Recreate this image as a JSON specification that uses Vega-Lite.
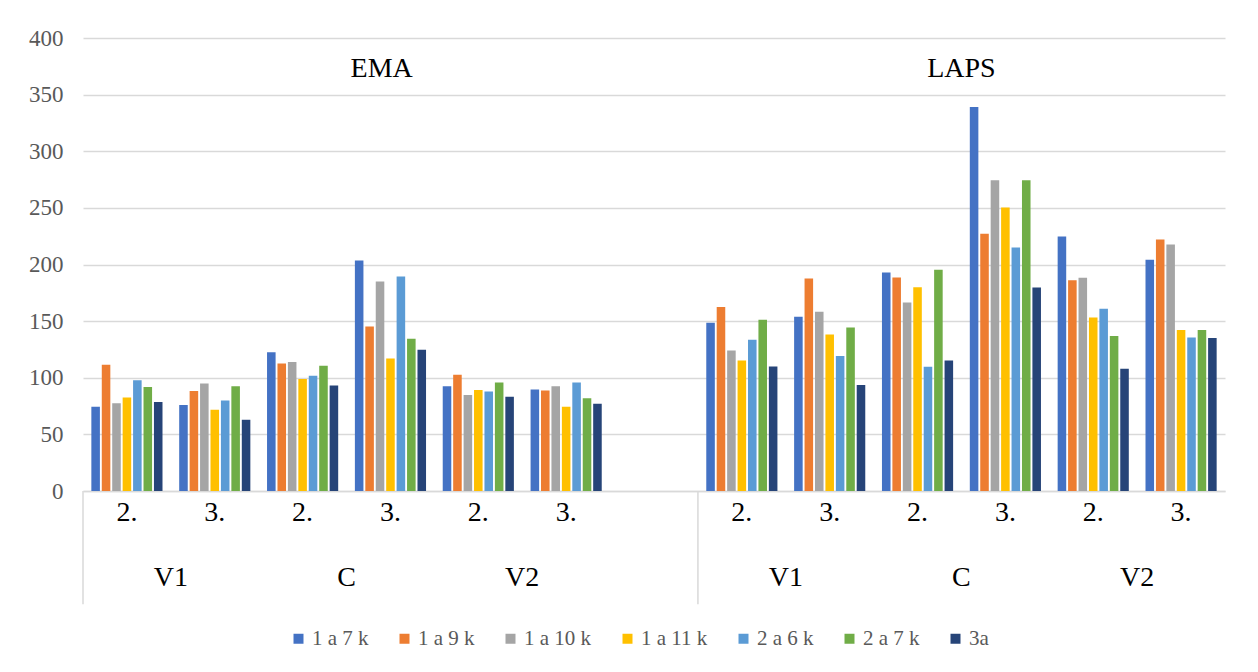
{
  "$schema": "https://vega.github.io/schema/vega-lite/v6.json",
  "width": 1142,
  "height": 453,
  "autosize": "none",
  "padding": {"left": 83, "top": 38, "right": 33, "bottom": 181},
  "background": "white",
  "config": {"view": {"stroke": null}, "font": "Liberation Serif"},
  "datasets": {
    "bars": [
      {"slot": "EMA|V1|2.", "series": "1 a 7 k", "value": 74.4},
      {"slot": "EMA|V1|2.", "series": "1 a 9 k", "value": 111.5},
      {"slot": "EMA|V1|2.", "series": "1 a 10 k", "value": 77.4},
      {"slot": "EMA|V1|2.", "series": "1 a 11 k", "value": 82.6},
      {"slot": "EMA|V1|2.", "series": "2 a 6 k", "value": 97.9},
      {"slot": "EMA|V1|2.", "series": "2 a 7 k", "value": 91.8},
      {"slot": "EMA|V1|2.", "series": "3a", "value": 78.5},
      {"slot": "EMA|V1|3.", "series": "1 a 7 k", "value": 75.9},
      {"slot": "EMA|V1|3.", "series": "1 a 9 k", "value": 88.2},
      {"slot": "EMA|V1|3.", "series": "1 a 10 k", "value": 95.0},
      {"slot": "EMA|V1|3.", "series": "1 a 11 k", "value": 71.8},
      {"slot": "EMA|V1|3.", "series": "2 a 6 k", "value": 80.0},
      {"slot": "EMA|V1|3.", "series": "2 a 7 k", "value": 92.4},
      {"slot": "EMA|V1|3.", "series": "3a", "value": 62.9},
      {"slot": "EMA|C|2.", "series": "1 a 7 k", "value": 122.6},
      {"slot": "EMA|C|2.", "series": "1 a 9 k", "value": 112.6},
      {"slot": "EMA|C|2.", "series": "1 a 10 k", "value": 113.8},
      {"slot": "EMA|C|2.", "series": "1 a 11 k", "value": 98.8},
      {"slot": "EMA|C|2.", "series": "2 a 6 k", "value": 101.8},
      {"slot": "EMA|C|2.", "series": "2 a 7 k", "value": 110.6},
      {"slot": "EMA|C|2.", "series": "3a", "value": 93.2},
      {"slot": "EMA|C|3.", "series": "1 a 7 k", "value": 203.5},
      {"slot": "EMA|C|3.", "series": "1 a 9 k", "value": 145.3},
      {"slot": "EMA|C|3.", "series": "1 a 10 k", "value": 185.0},
      {"slot": "EMA|C|3.", "series": "1 a 11 k", "value": 117.1},
      {"slot": "EMA|C|3.", "series": "2 a 6 k", "value": 189.4},
      {"slot": "EMA|C|3.", "series": "2 a 7 k", "value": 134.4},
      {"slot": "EMA|C|3.", "series": "3a", "value": 124.7},
      {"slot": "EMA|V2|2.", "series": "1 a 7 k", "value": 92.4},
      {"slot": "EMA|V2|2.", "series": "1 a 9 k", "value": 102.6},
      {"slot": "EMA|V2|2.", "series": "1 a 10 k", "value": 84.7},
      {"slot": "EMA|V2|2.", "series": "1 a 11 k", "value": 89.1},
      {"slot": "EMA|V2|2.", "series": "2 a 6 k", "value": 87.9},
      {"slot": "EMA|V2|2.", "series": "2 a 7 k", "value": 95.9},
      {"slot": "EMA|V2|2.", "series": "3a", "value": 83.2},
      {"slot": "EMA|V2|3.", "series": "1 a 7 k", "value": 89.7},
      {"slot": "EMA|V2|3.", "series": "1 a 9 k", "value": 88.8},
      {"slot": "EMA|V2|3.", "series": "1 a 10 k", "value": 92.6},
      {"slot": "EMA|V2|3.", "series": "1 a 11 k", "value": 74.4},
      {"slot": "EMA|V2|3.", "series": "2 a 6 k", "value": 95.9},
      {"slot": "EMA|V2|3.", "series": "2 a 7 k", "value": 81.8},
      {"slot": "EMA|V2|3.", "series": "3a", "value": 77.1},
      {"slot": "LAPS|V1|2.", "series": "1 a 7 k", "value": 148.6},
      {"slot": "LAPS|V1|2.", "series": "1 a 9 k", "value": 162.4},
      {"slot": "LAPS|V1|2.", "series": "1 a 10 k", "value": 124.1},
      {"slot": "LAPS|V1|2.", "series": "1 a 11 k", "value": 115.3},
      {"slot": "LAPS|V1|2.", "series": "2 a 6 k", "value": 133.6},
      {"slot": "LAPS|V1|2.", "series": "2 a 7 k", "value": 151.2},
      {"slot": "LAPS|V1|2.", "series": "3a", "value": 110.0},
      {"slot": "LAPS|V1|3.", "series": "1 a 7 k", "value": 153.9},
      {"slot": "LAPS|V1|3.", "series": "1 a 9 k", "value": 187.7},
      {"slot": "LAPS|V1|3.", "series": "1 a 10 k", "value": 158.3},
      {"slot": "LAPS|V1|3.", "series": "1 a 11 k", "value": 138.3},
      {"slot": "LAPS|V1|3.", "series": "2 a 6 k", "value": 119.1},
      {"slot": "LAPS|V1|3.", "series": "2 a 7 k", "value": 144.4},
      {"slot": "LAPS|V1|3.", "series": "3a", "value": 93.5},
      {"slot": "LAPS|C|2.", "series": "1 a 7 k", "value": 192.9},
      {"slot": "LAPS|C|2.", "series": "1 a 9 k", "value": 188.5},
      {"slot": "LAPS|C|2.", "series": "1 a 10 k", "value": 166.5},
      {"slot": "LAPS|C|2.", "series": "1 a 11 k", "value": 180.0},
      {"slot": "LAPS|C|2.", "series": "2 a 6 k", "value": 109.8},
      {"slot": "LAPS|C|2.", "series": "2 a 7 k", "value": 195.3},
      {"slot": "LAPS|C|2.", "series": "3a", "value": 115.3},
      {"slot": "LAPS|C|3.", "series": "1 a 7 k", "value": 339.1},
      {"slot": "LAPS|C|3.", "series": "1 a 9 k", "value": 227.1},
      {"slot": "LAPS|C|3.", "series": "1 a 10 k", "value": 274.4},
      {"slot": "LAPS|C|3.", "series": "1 a 11 k", "value": 250.3},
      {"slot": "LAPS|C|3.", "series": "2 a 6 k", "value": 215.0},
      {"slot": "LAPS|C|3.", "series": "2 a 7 k", "value": 274.4},
      {"slot": "LAPS|C|3.", "series": "3a", "value": 179.7},
      {"slot": "LAPS|V2|2.", "series": "1 a 7 k", "value": 224.7},
      {"slot": "LAPS|V2|2.", "series": "1 a 9 k", "value": 186.2},
      {"slot": "LAPS|V2|2.", "series": "1 a 10 k", "value": 188.2},
      {"slot": "LAPS|V2|2.", "series": "1 a 11 k", "value": 153.2},
      {"slot": "LAPS|V2|2.", "series": "2 a 6 k", "value": 160.9},
      {"slot": "LAPS|V2|2.", "series": "2 a 7 k", "value": 136.8},
      {"slot": "LAPS|V2|2.", "series": "3a", "value": 108.0},
      {"slot": "LAPS|V2|3.", "series": "1 a 7 k", "value": 204.1},
      {"slot": "LAPS|V2|3.", "series": "1 a 9 k", "value": 222.1},
      {"slot": "LAPS|V2|3.", "series": "1 a 10 k", "value": 217.6},
      {"slot": "LAPS|V2|3.", "series": "1 a 11 k", "value": 142.1},
      {"slot": "LAPS|V2|3.", "series": "2 a 6 k", "value": 135.6},
      {"slot": "LAPS|V2|3.", "series": "2 a 7 k", "value": 142.1},
      {"slot": "LAPS|V2|3.", "series": "3a", "value": 135.0}
    ],
    "groups": [
      {"slot": "EMA|V1|2.", "label": "V1"},
      {"slot": "EMA|C|2.", "label": "C"},
      {"slot": "EMA|V2|2.", "label": "V2"},
      {"slot": "LAPS|V1|2.", "label": "V1"},
      {"slot": "LAPS|C|2.", "label": "C"},
      {"slot": "LAPS|V2|2.", "label": "V2"}
    ],
    "seps": [
      {"slot": "EMA|V1|2."},
      {"slot": "LAPS|V1|2."}
    ]
  },
  "layer": [
    {
      "data": {"name": "bars"},
      "mark": {"type": "bar"},
      "encoding": {
        "x": {
          "field": "slot",
          "type": "nominal",
          "sort": null,
          "scale": {
            "domain": ["EMA|V1|2.", "EMA|V1|3.", "EMA|C|2.", "EMA|C|3.", "EMA|V2|2.", "EMA|V2|3.", "EMA| | ", "LAPS|V1|2.", "LAPS|V1|3.", "LAPS|C|2.", "LAPS|C|3.", "LAPS|V2|2.", "LAPS|V2|3."],
            "paddingInner": 0,
            "paddingOuter": 0
          },
          "axis": {
            "title": null,
            "labelExpr": "split(datum.value, '|')[2]",
            "labelAngle": 0,
            "ticks": false,
            "grid": false,
            "domainColor": "#d9d9d9",
            "domainWidth": 1.5,
            "labelFont": "Liberation Serif",
            "labelFontSize": 28,
            "labelColor": "#000000",
            "labelPadding": 7
          }
        },
        "xOffset": {
          "field": "series",
          "type": "nominal",
          "sort": ["1 a 7 k", "1 a 9 k", "1 a 10 k", "1 a 11 k", "2 a 6 k", "2 a 7 k", "3a"],
          "scale": {"paddingInner": 0.18, "paddingOuter": 0.8}
        },
        "y": {
          "field": "value",
          "type": "quantitative",
          "scale": {"domain": [0, 400], "nice": false},
          "axis": {
            "title": null,
            "values": [0, 50, 100, 150, 200, 250, 300, 350, 400],
            "domain": false,
            "ticks": false,
            "labelFont": "Liberation Serif",
            "labelFontSize": 23,
            "labelColor": "#595959",
            "labelPadding": 20,
            "gridColor": "#d9d9d9",
            "gridWidth": 1.3
          }
        },
        "color": {
          "field": "series",
          "type": "nominal",
          "sort": ["1 a 7 k", "1 a 9 k", "1 a 10 k", "1 a 11 k", "2 a 6 k", "2 a 7 k", "3a"],
          "scale": {
            "domain": ["1 a 7 k", "1 a 9 k", "1 a 10 k", "1 a 11 k", "2 a 6 k", "2 a 7 k", "3a"],
            "range": ["#4472C4", "#ED7D31", "#A5A5A5", "#FFC000", "#5B9BD5", "#70AD47", "#264478"]
          },
          "legend": {
            "orient": "none",
            "legendX": 205,
            "legendY": 590,
            "direction": "horizontal",
            "columns": 7,
            "title": null,
            "symbolType": "square",
            "symbolSize": 100,
            "symbolStrokeWidth": 0,
            "labelFont": "Liberation Serif",
            "labelFontSize": 21,
            "labelColor": "#595959",
            "labelOffset": 3,
            "columnPadding": 25
          }
        }
      }
    },
    {
      "data": {"name": "seps"},
      "mark": {"type": "rule", "color": "#d9d9d9", "strokeWidth": 1.5},
      "encoding": {
        "x": {"field": "slot", "type": "nominal", "bandPosition": 0},
        "y": {"datum": 0},
        "y2": {"datum": -100}
      }
    },
    {
      "data": {"name": "groups"},
      "mark": {"type": "text", "fontSize": 28, "color": "#000000", "baseline": "middle", "align": "center", "font": "Liberation Serif"},
      "encoding": {
        "x": {"field": "slot", "type": "nominal", "bandPosition": 1},
        "y": {"datum": -77},
        "text": {"field": "label"}
      }
    },
    {
      "data": {"values": [{"slot": "EMA|C|3.", "label": "EMA"}]},
      "mark": {"type": "text", "fontSize": 28, "color": "#000000", "baseline": "middle", "align": "center", "font": "Liberation Serif"},
      "encoding": {
        "x": {"field": "slot", "type": "nominal", "bandPosition": 0.4},
        "y": {"datum": 373},
        "text": {"field": "label"}
      }
    },
    {
      "data": {"values": [{"slot": "LAPS|C|3.", "label": "LAPS"}]},
      "mark": {"type": "text", "fontSize": 28, "color": "#000000", "baseline": "middle", "align": "center", "font": "Liberation Serif"},
      "encoding": {
        "x": {"field": "slot", "type": "nominal", "bandPosition": 0},
        "y": {"datum": 373},
        "text": {"field": "label"}
      }
    }
  ]
}
